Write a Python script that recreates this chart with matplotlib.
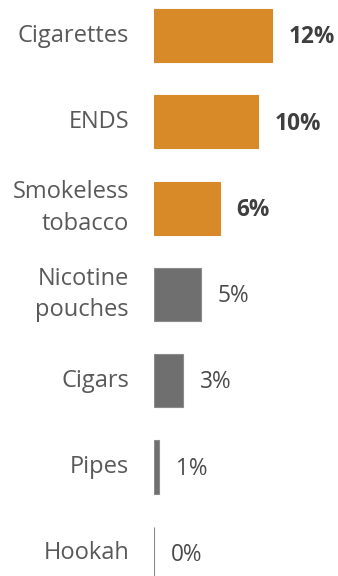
import matplotlib
matplotlib.use("Agg")
import matplotlib.pyplot as plt

categories = ["Cigarettes", "ENDS", "Smokeless\ntobacco", "Nicotine\npouches", "Cigars", "Pipes", "Hookah"]
values = [12.0, 10.6, 6.7, 4.8, 2.95, 0.55, 0.0]
value_labels = ["12%", "10%", "6%", "5%", "3%", "1%", "0%"]
highlight = [True, True, True, False, False, False, False]

ORANGE = "#D88A28"
GRAY = "#6E6F6E"

W, H = 338, 576
fig = plt.figure(figsize=(W / 100, H / 100), dpi=100)
fig.patch.set_facecolor("white")
ax = fig.add_axes([154 / W, 0, (W - 154) / W, 1])

px_per_unit = 118 / 12.0
ax.set_xlim(0, (W - 154) / px_per_unit)
step = 86.3
top = -35.5 / step
ax.set_ylim(top + H / step, top)

ypos = list(range(len(categories)))
colors = [ORANGE if h else GRAY for h in highlight]
edges = ["#D88A28" if h else "#8A8B8A" for h in highlight]
ax.barh(ypos, values, height=0.615, color=colors, edgecolor=edges, linewidth=0.8)

off = 16.5 / px_per_unit
for y, v, lab, h in zip(ypos, values, value_labels, highlight):
    ax.text(v + off, y + 0.02, lab, va="center", ha="left", fontsize=16.3,
            fontfamily="Open Sans", fontweight="bold" if h else "normal",
            color="#3F3F3F" if h else "#4A4A4A")

for y, c in zip(ypos, categories):
    ax.text(-25 / px_per_unit, y, c, va="center", ha="right", fontsize=17,
            fontfamily="Open Sans", color="#595959", linespacing=1.42)

ax.axis("off")
fig.savefig("out.png", dpi=100)
